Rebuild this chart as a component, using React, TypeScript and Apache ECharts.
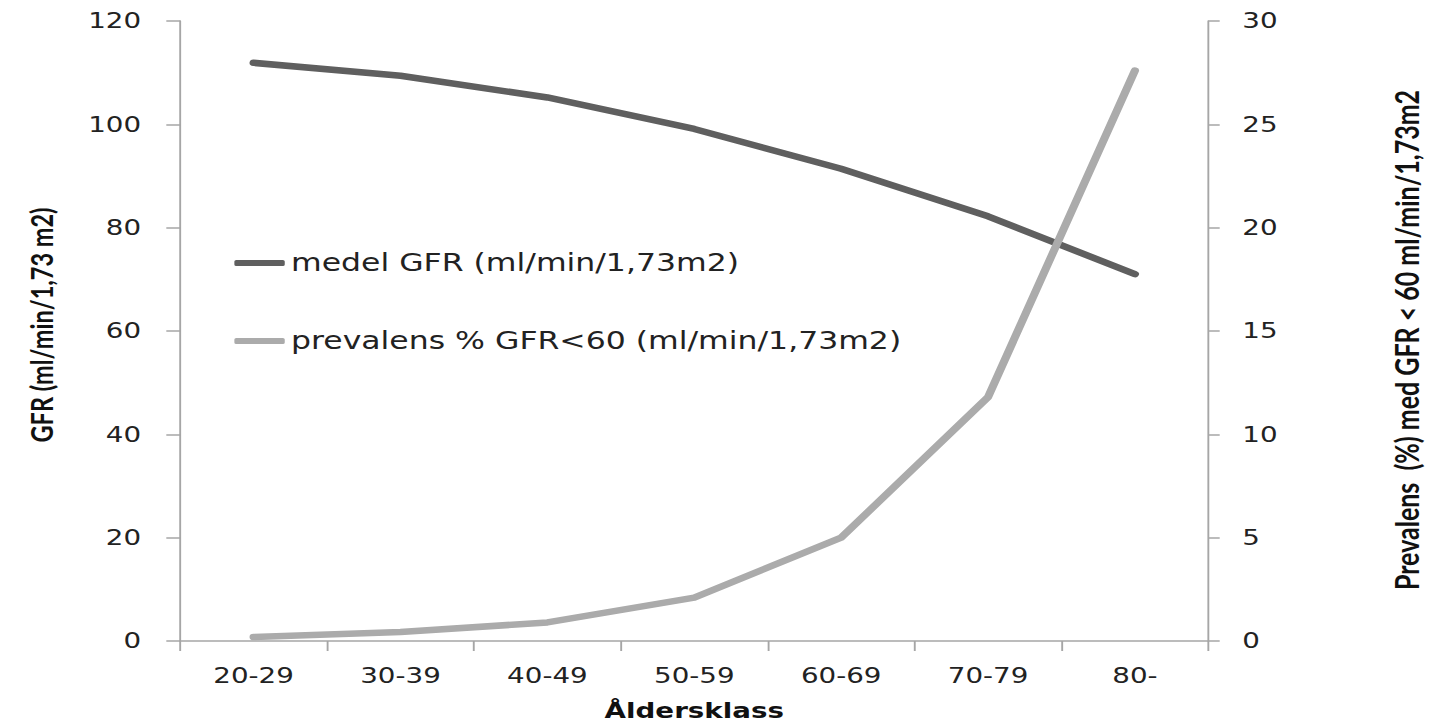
import React, { useEffect, useRef } from "react";
import * as echarts from "echarts";

const categories = ["20-29", "30-39", "40-49", "50-59", "60-69", "70-79", "80-"];
const gfrValues = [111.9, 109.4, 105.2, 99.1, 91.4, 82.2, 71.0];
const prevalensValues = [0.19, 0.43, 0.9, 2.1, 5.0, 11.8, 27.6];
const gfrName = "medel GFR (ml/min/1,73m2)";
const prevName = "prevalens % GFR<60 (ml/min/1,73m2)";
const leftTitle = "GFR (ml/min/1,73 m2)";
const rightTitle = "Prevalens  (%) med GFR < 60 ml/min/1,73m2";
const xTitle = "Åldersklass";

const K = 1.26;
const W = Math.round(1433 / K);
const H = 727;

export default function App() {
  const ref = useRef<HTMLDivElement>(null);
  useEffect(() => {
    if (!ref.current) return;
    const chart = echarts.init(ref.current, undefined, { renderer: "svg" });
    const axisColor = "#a6a6a6";
    const labelStyle = {
      fontFamily: "DejaVu Sans",
      fontSize: 22,
      color: "#222222",
    };
    const titleStyle = {
      fontFamily: "Lato",
      fontWeight: "bold" as const,
      color: "#111111",
    };
    chart.setOption({
      animation: false,
      backgroundColor: "#ffffff",
      grid: { left: 143, right: 166, top: 21, bottom: 77, containLabel: false },
      legend: {
        orient: "vertical",
        left: 181,
        top: 244,
        itemWidth: 40,
        itemHeight: 6,
        itemGap: 50,
        icon: "roundRect",
        textStyle: { fontFamily: "DejaVu Sans", fontSize: 25, lineHeight: 28, color: "#222222" },
        data: [gfrName, prevName],
      },
      xAxis: {
        type: "category",
        data: categories,
        boundaryGap: true,
        axisLine: { lineStyle: { color: axisColor, width: 1.5 } },
        axisTick: { show: true, alignWithLabel: false, length: 10, lineStyle: { color: axisColor, width: 1.5 } },
        axisLabel: { ...labelStyle, margin: 24 },
        name: xTitle,
        nameLocation: "middle",
        nameGap: 59,
        nameTextStyle: { fontFamily: "DejaVu Sans", fontWeight: "bold", fontSize: 22, color: "#111111" },
      },
      yAxis: [
        {
          type: "value",
          min: 0,
          max: 120,
          interval: 20,
          position: "left",
          axisLine: { show: true, lineStyle: { color: axisColor, width: 1.5 } },
          axisTick: { show: true, length: 11, lineStyle: { color: axisColor, width: 1.5 } },
          splitLine: { show: false },
          axisLabel: { ...labelStyle, margin: 31 },
          name: leftTitle,
          nameLocation: "middle",
          nameRotate: 90,
          nameGap: 98,
          nameTextStyle: { ...titleStyle, fontSize: 23.5, padding: [0, 0, 0, 12] },
        },
        {
          type: "value",
          min: 0,
          max: 30,
          interval: 5,
          position: "right",
          axisLine: { show: true, lineStyle: { color: axisColor, width: 1.5 } },
          axisTick: { show: true, length: 9, lineStyle: { color: axisColor, width: 1.5 } },
          splitLine: { show: false },
          axisLabel: { ...labelStyle, margin: 27 },
          name: rightTitle,
          nameLocation: "middle",
          nameRotate: 90,
          nameGap: 145,
          nameTextStyle: { ...titleStyle, fontSize: 25, padding: [0, 18, 0, 0] },
        },
      ],
      series: [
        {
          name: gfrName,
          type: "line",
          yAxisIndex: 0,
          data: gfrValues,
          showSymbol: false,
          symbol: "none",
          color: "#5f5f5f",
          lineStyle: { color: "#5f5f5f", width: 6.5, cap: "round", join: "round" },
          z: 3,
        },
        {
          name: prevName,
          type: "line",
          yAxisIndex: 1,
          data: prevalensValues,
          showSymbol: false,
          symbol: "none",
          color: "#ababab",
          lineStyle: { color: "#ababab", width: 6.5, cap: "round", join: "round" },
          z: 4,
        },
      ],
    });
    return () => chart.dispose();
  }, []);
  return (
    <div
      style={{
        position: "fixed",
        left: 0,
        top: 0,
        width: 1433,
        height: H,
        overflow: "hidden",
        background: "#ffffff",
      }}
    >
      <div
        ref={ref}
        style={{ width: W, height: H, transform: `scaleX(${K})`, transformOrigin: "0 0" }}
      />
    </div>
  );
}
